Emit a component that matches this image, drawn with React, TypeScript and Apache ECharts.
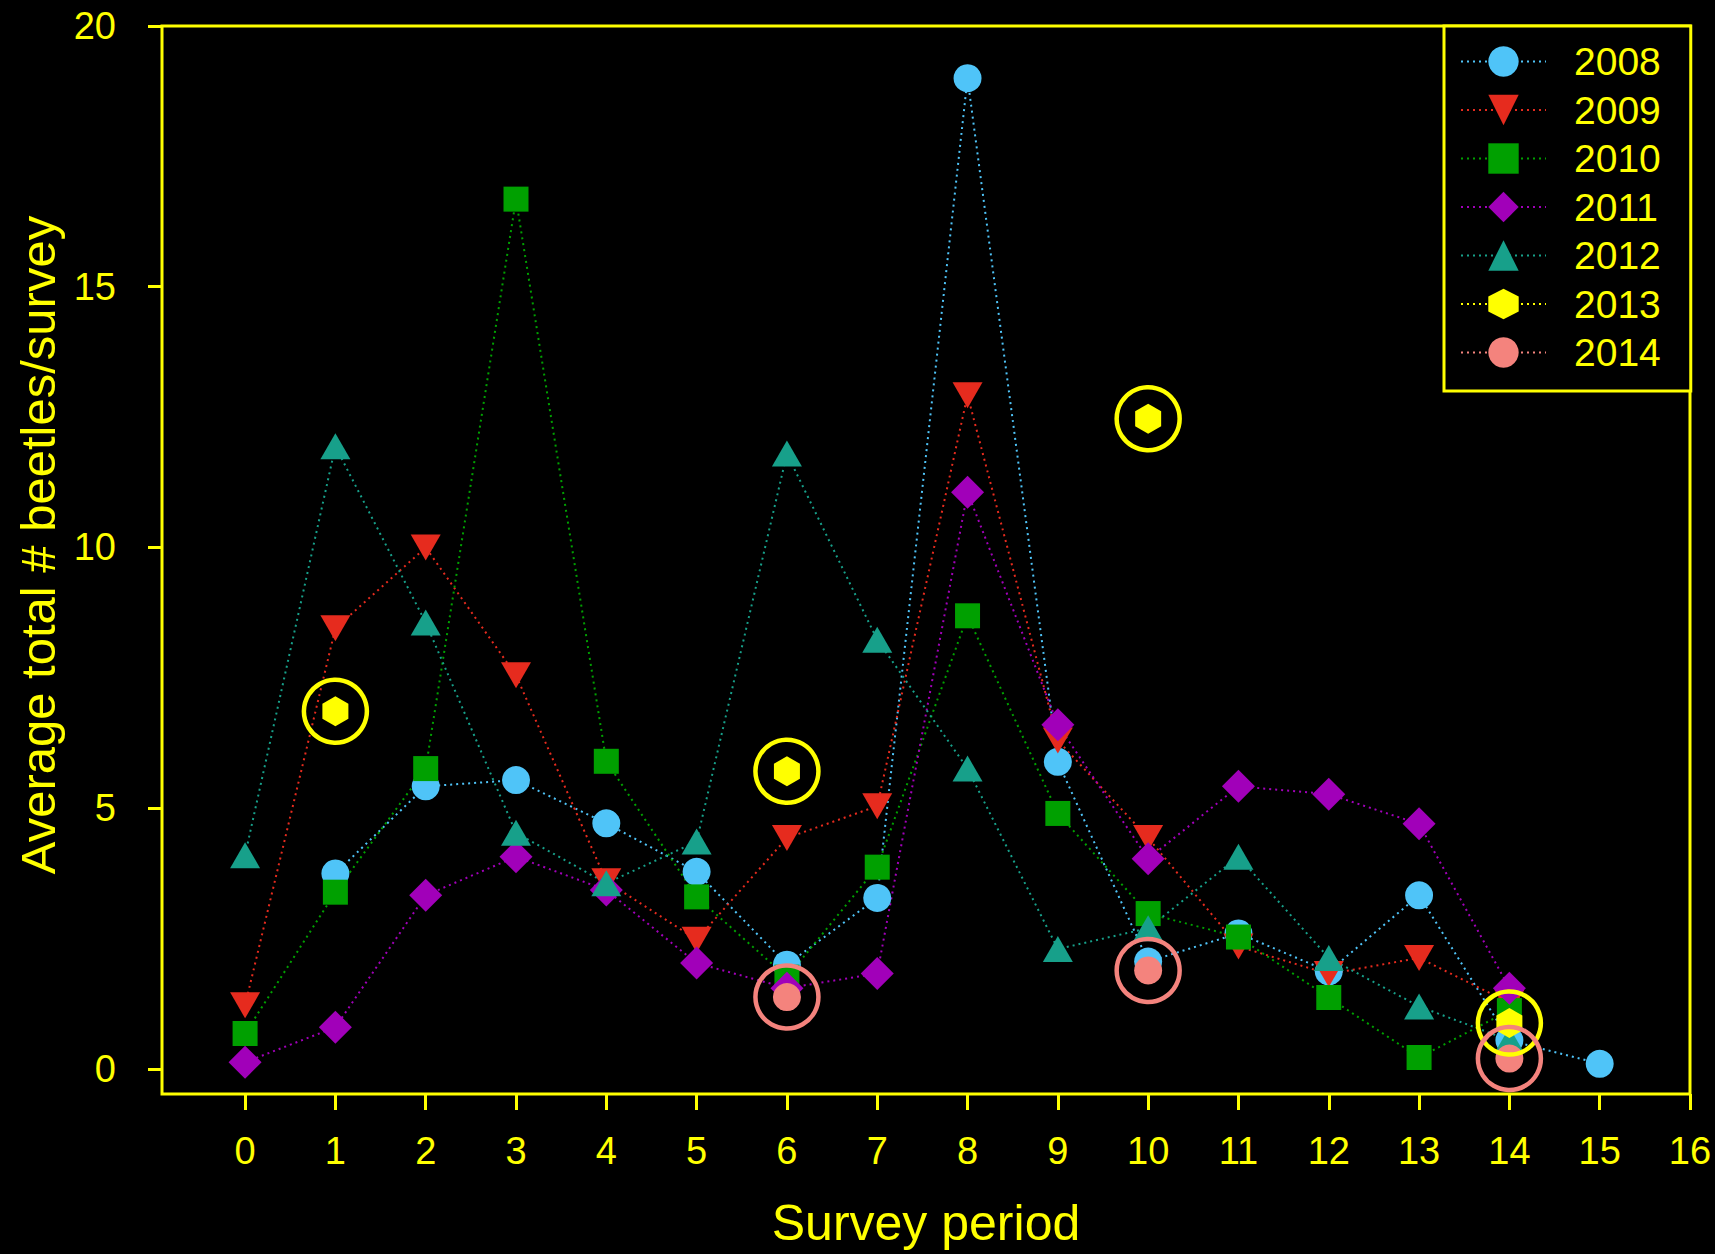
import React, { useEffect, useRef } from "react";
import * as echarts from "echarts";

const periods = [0, 1, 2, 3, 4, 5, 6, 7, 8, 9, 10, 11, 12, 13, 14, 15];
const xTicks = [0, 1, 2, 3, 4, 5, 6, 7, 8, 9, 10, 11, 12, 13, 14, 15, 16];
const yTicks = [0, 5, 10, 15, 20];

const y2008 = [null, 3.75, 5.42, 5.54, 4.71, 3.78, 2.0, 3.28, 19.0, 5.89, 2.06, 2.6, 1.87, 3.33, 0.55, 0.1];
const y2009 = [1.22, 8.45, 10.0, 7.55, 3.6, 2.48, 4.43, 5.04, 12.92, 6.3, 4.43, 2.35, 1.82, 2.13, 1.27, null];
const y2010 = [0.68, 3.39, 5.76, 16.68, 5.9, 3.3, 1.76, 3.87, 8.69, 4.9, 2.98, 2.53, 1.37, 0.22, 1.12, null];
const y2011 = [0.13, 0.8, 3.33, 4.07, 3.43, 2.03, 1.55, 1.83, 11.06, 6.6, 4.03, 5.42, 5.27, 4.7, 1.55, null];
const y2012 = [4.1, 11.94, 8.56, 4.53, 3.56, 4.36, 11.8, 8.23, 5.76, 2.3, 2.7, 4.07, 2.13, 1.2, 0.55, null];
const y2013 = [null, 6.86, null, null, null, null, 5.71, null, null, null, 12.47, null, null, null, 0.88, null];
const y2014 = [null, null, null, null, null, null, 1.38, null, null, null, 1.89, null, null, null, 0.2, null];

const years = ["2008", "2009", "2010", "2011", "2012", "2013", "2014"];

const YEL = "#ffff00";
const FONT = "'Liberation Sans', Arial, Helvetica, sans-serif";
const HEX = "path://M0,-10L8.66,-5L8.66,5L0,10L-8.66,5L-8.66,-5Z";

function toData(vals: (number | null)[]) {
  return periods.map((p, i) => (vals[i] == null ? [p, "-"] : [p, vals[i]]));
}

function lineSeries(
  name: string,
  vals: (number | null)[],
  color: string,
  symbol: string,
  size: number | number[],
  rotate = 0
) {
  return {
    type: "line",
    name,
    data: toData(vals),
    symbol,
    symbolSize: size,
    symbolRotate: rotate,
    showSymbol: true,
    connectNulls: false,
    lineStyle: { color, width: 2, type: [2, 4] },
    itemStyle: { color, opacity: 1 },
    emphasis: { disabled: true },
    z: 2,
  };
}

function ringSeries(vals: (number | null)[], color: string) {
  return {
    type: "scatter",
    name: "ring",
    data: periods
      .map((p, i) => (vals[i] == null ? null : [p, vals[i]]))
      .filter((d) => d != null),
    symbol: "circle",
    symbolSize: 63,
    itemStyle: { color: "rgba(0,0,0,0)", borderColor: color, borderWidth: 4.5, opacity: 1 },
    emphasis: { disabled: true },
    silent: true,
    z: 3,
  };
}

export default function App() {
  const ref = useRef<HTMLDivElement>(null);
  useEffect(() => {
    document.body.style.margin = "0";
    document.body.style.background = "#000";
    const chart = echarts.init(ref.current!, null, { renderer: "svg" });
    const option = {
      animation: false,
      backgroundColor: "#000",
      textStyle: { fontFamily: FONT },
      grid: {
        left: 162,
        right: 25,
        top: 26,
        bottom: 160,
        show: true,
        borderColor: YEL,
        borderWidth: 3,
        backgroundColor: "rgba(0,0,0,0)",
        containLabel: false,
      },
      xAxis: {
        type: "value",
        min: -0.92,
        max: 16,
        splitLine: { show: false },
        axisLine: { show: false, onZero: false },
        axisTick: { show: true, inside: false, length: 16, customValues: xTicks, lineStyle: { color: YEL, width: 3 } },
        axisLabel: {
          customValues: xTicks,
          color: YEL,
          fontSize: 38,
          fontFamily: FONT,
          margin: 38,
          showMinLabel: true,
          showMaxLabel: true,
        },
        name: "Survey period",
        nameLocation: "middle",
        nameGap: 104,
        nameTextStyle: { color: YEL, fontSize: 50, fontFamily: FONT },
      },
      yAxis: {
        type: "value",
        min: -0.48,
        max: 20,
        splitLine: { show: false },
        axisLine: { show: false, onZero: false },
        axisTick: { show: true, inside: false, length: 14, customValues: yTicks, lineStyle: { color: YEL, width: 3 } },
        axisLabel: {
          customValues: yTicks,
          color: YEL,
          fontSize: 38,
          fontFamily: FONT,
          margin: 46,
        },
        name: "Average total # beetles/survey",
        nameLocation: "middle",
        nameGap: 96,
        nameRotate: 90,
        nameTextStyle: { color: YEL, fontSize: 49, fontFamily: FONT, padding: [0, 0, 0, 30] },
      },
      legend: {
        data: years,
        orient: "vertical",
        left: 1444,
        top: 26,
        backgroundColor: "#000",
        borderColor: YEL,
        borderWidth: 3,
        borderRadius: 0,
        padding: [16, 30, 19, 16],
        itemWidth: 85,
        itemHeight: 38,
        itemGap: 9.5,
        selectedMode: false,
        textStyle: { color: YEL, fontSize: 39, fontFamily: FONT, lineHeight: 38, padding: [0, 0, 0, 23] },
      },
      series: [
        lineSeries("2008", y2008, "#4fc4f8", "circle", 28),
        lineSeries("2009", y2009, "#e62b1e", "triangle", [30, 26], 180),
        lineSeries("2010", y2010, "#00a000", "rect", 25),
        lineSeries("2011", y2011, "#a100b9", "diamond", 33),
        lineSeries("2012", y2012, "#17a08a", "triangle", [30, 26]),
        lineSeries("2013", y2013, "#ffff00", HEX, [26, 30]),
        lineSeries("2014", y2014, "#f4837d", "circle", 28),
        ringSeries(y2013, "#ffff00"),
        ringSeries(y2014, "#f4837d"),
      ],
    };
    chart.setOption(option as any);
    return () => chart.dispose();
  }, []);
  return <div ref={ref} style={{ width: 1715, height: 1254, background: "#000" }} />;
}
